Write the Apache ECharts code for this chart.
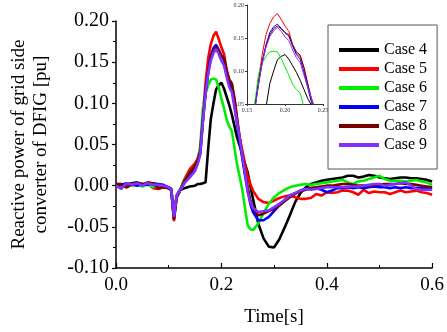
<!DOCTYPE html>
<html lang="en">
<head>
    <meta charset="UTF-8">
    <title>Reactive power of grid side converter</title>
    <script src="https://cdn.jsdelivr.net/npm/echarts/dist/echarts.min.js"></script>
    <style>
        html, body { margin: 0; padding: 0; background: #fff; }
        #main { width: 447px; height: 332px; }
    </style>
</head>
<body>
<div id="main"></div>
<script>
    // time axis [s], finer steps around the fault
    var time = [0, 0.01, 0.02, 0.03, 0.04, 0.05, 0.06, 0.07, 0.08, 0.09, 0.10,
        0.105, 0.11, 0.115, 0.12, 0.13, 0.14, 0.15,
        0.155, 0.16, 0.165, 0.17, 0.175, 0.18, 0.185, 0.19, 0.195, 0.20, 0.205,
        0.21, 0.215, 0.22, 0.225, 0.23, 0.235, 0.24, 0.245, 0.25, 0.255, 0.26,
        0.27, 0.28, 0.29, 0.30, 0.31, 0.32, 0.33, 0.34, 0.35, 0.36, 0.37, 0.38,
        0.39, 0.40, 0.41, 0.42, 0.43, 0.44, 0.45, 0.46, 0.47, 0.48, 0.49, 0.50,
        0.51, 0.52, 0.53, 0.54, 0.55, 0.56, 0.57, 0.58, 0.59, 0.60];

    var caseNames = ['Case 4', 'Case 5', 'Case 6', 'Case 7', 'Case 8', 'Case 9'];
    var caseColors = ['#000000', '#ff0000', '#00ee00', '#0000ff', '#7a0000', '#8030ff'];

    var case4 = [0.002, 0.002, 0.000, 0.003, 0.004, 0.002, 0.001, 0.003, 0.000, -0.001, -0.002,
        -0.004, -0.038, -0.012, -0.006, -0.003, -0.001, 0.000,
        0.002, 0.002, 0.003, 0.004, 0.045, 0.081, 0.100, 0.117, 0.122, 0.125, 0.118,
        0.108, 0.098, 0.086, 0.072, 0.058, 0.048, 0.038, 0.026, 0.016, 0.000, -0.016,
        -0.046, -0.064, -0.074, -0.075, -0.065, -0.051, -0.036, -0.020, -0.009, -0.002, 0.002, 0.004,
        0.006, 0.007, 0.008, 0.009, 0.010, 0.012, 0.012, 0.010, 0.011, 0.013, 0.012, 0.010,
        0.009, 0.008, 0.009, 0.010, 0.010, 0.009, 0.009, 0.008, 0.007, 0.005];
    var case5 = [0.002, 0.001, -0.002, 0.001, 0.002, 0.002, 0.003, -0.003, -0.004, -0.002, -0.003,
        -0.006, -0.043, -0.014, -0.008, 0.008, 0.020, 0.027,
        0.033, 0.045, 0.085, 0.125, 0.155, 0.172, 0.182, 0.187, 0.178, 0.168, 0.160,
        0.140, 0.127, 0.122, 0.105, 0.080, 0.058, 0.042, 0.025, 0.012, 0.002, -0.006,
        -0.016, -0.020, -0.021, -0.018, -0.015, -0.013, -0.012, -0.014, -0.016, -0.016, -0.015, -0.010,
        -0.012, -0.008, -0.009, -0.008, -0.006, -0.006, -0.008, -0.011, -0.005, -0.009, -0.007, -0.008,
        -0.008, -0.010, -0.008, -0.006, -0.008, -0.007, -0.006, -0.008, -0.009, -0.011];
    var case6 = [0.001, -0.002, 0.002, 0.000, 0.001, -0.001, 0.002, -0.002, 0.001, -0.002, -0.002,
        -0.005, -0.040, -0.013, -0.007, 0.007, 0.016, 0.024,
        0.030, 0.048, 0.095, 0.112, 0.122, 0.129, 0.130, 0.129, 0.119, 0.106, 0.094,
        0.080, 0.072, 0.066, 0.045, 0.025, 0.010, -0.006, -0.028, -0.048, -0.053, -0.054,
        -0.046, -0.033, -0.022, -0.014, -0.009, -0.005, -0.002, 0.000, 0.001, 0.002, 0.001, 0.002,
        0.003, 0.004, 0.005, 0.006, 0.007, 0.004, 0.002, 0.005, 0.006, 0.008, 0.010, 0.012,
        0.008, 0.006, 0.006, 0.006, 0.005, 0.006, 0.007, 0.005, 0.004, 0.001];
    var case7 = [0.000, 0.001, 0.003, 0.002, 0.000, 0.002, 0.001, 0.003, 0.002, 0.001, -0.002,
        -0.005, -0.040, -0.014, -0.008, 0.004, 0.012, 0.020,
        0.028, 0.040, 0.080, 0.115, 0.140, 0.158, 0.167, 0.171, 0.165, 0.158, 0.153,
        0.138, 0.125, 0.118, 0.098, 0.074, 0.052, 0.032, 0.012, -0.006, -0.022, -0.032,
        -0.042, -0.042, -0.038, -0.031, -0.024, -0.018, -0.012, -0.009, -0.006, -0.004, -0.003, -0.003,
        -0.005, -0.008, -0.006, -0.003, -0.003, -0.002, -0.003, -0.002, -0.003, -0.002, -0.001, -0.002,
        -0.002, -0.003, -0.002, -0.003, -0.002, -0.003, -0.003, -0.003, -0.003, -0.003];
    var case8 = [0.002, 0.001, -0.002, 0.002, 0.003, 0.001, 0.004, 0.003, -0.003, -0.002, -0.003,
        -0.006, -0.041, -0.014, -0.008, 0.006, 0.016, 0.024,
        0.031, 0.042, 0.080, 0.113, 0.138, 0.155, 0.164, 0.168, 0.164, 0.158, 0.155,
        0.140, 0.129, 0.124, 0.105, 0.080, 0.056, 0.036, 0.016, -0.002, -0.018, -0.027,
        -0.036, -0.034, -0.031, -0.028, -0.024, -0.019, -0.014, -0.010, -0.007, -0.005, -0.003, -0.002,
        -0.001, 0.000, 0.000, 0.001, 0.002, 0.002, 0.001, 0.000, 0.000, 0.000, 0.001, 0.001,
        0.002, 0.002, 0.002, 0.003, 0.002, 0.002, 0.001, 0.000, -0.001, -0.002];
    var case9 = [0.000, -0.004, 0.003, 0.001, 0.003, 0.000, 0.003, 0.001, 0.001, 0.000, -0.002,
        -0.005, -0.038, -0.012, -0.007, 0.003, 0.010, 0.018,
        0.026, 0.038, 0.078, 0.112, 0.136, 0.152, 0.161, 0.166, 0.160, 0.152, 0.146,
        0.132, 0.120, 0.113, 0.094, 0.075, 0.058, 0.035, 0.015, -0.008, -0.020, -0.027,
        -0.032, -0.031, -0.030, -0.026, -0.022, -0.017, -0.012, -0.009, -0.006, -0.004, -0.005, -0.004,
        -0.003, -0.002, -0.002, -0.002, -0.002, -0.001, -0.001, -0.001, 0.000, 0.001, 0.002, 0.002,
        0.000, 0.001, 0.002, 0.003, 0.004, 0.000, -0.004, -0.005, -0.005, -0.005];

    var allCases = [case4, case5, case6, case7, case8, case9];

    var serif = 'Liberation Serif';

    function pairs(vals) {
        return time.map(function (t, i) { return [t, vals[i]]; });
    }

    var series = [];
    // main curves (grid 0) and zoomed copies in the inset (grid 1)
    allCases.forEach(function (vals, k) {
        series.push({
            name: caseNames[k], type: 'line', xAxisIndex: 0, yAxisIndex: 0,
            data: pairs(vals), showSymbol: false, symbol: 'none',
            lineStyle: { width: 2.6, color: caseColors[k] }, itemStyle: { color: caseColors[k] }
        });
    });
    allCases.forEach(function (vals, k) {
        series.push({
            name: caseNames[k], type: 'line', xAxisIndex: 1, yAxisIndex: 1,
            data: pairs(vals), showSymbol: false, symbol: 'none', clip: true,
            lineStyle: { width: 1, color: caseColors[k] }, itemStyle: { color: caseColors[k] }
        });
    });

    var myChart = echarts.init(document.getElementById('main'));
    var option = {
        animation: false,
        backgroundColor: '#fff',
        grid: [
            { left: 113, right: 14, top: 21, bottom: 62 },
            { left: 247, right: 124, top: 5, bottom: 228 }
        ],
        legend: {
            data: caseNames,
            orient: 'vertical',
            left: 328, top: 25,
            padding: [17, 10, 16, 11],
            itemGap: 3,
            itemWidth: 40, itemHeight: 4,
            icon: 'rect',
            borderColor: '#555', borderWidth: 1,
            backgroundColor: '#fff',
            textStyle: { fontFamily: serif, fontSize: 16, color: '#000', lineHeight: 16 }
        },
        xAxis: [{
            gridIndex: 0, type: 'value', min: 0, max: 0.6, interval: 0.2,
            name: 'Time[s]', nameLocation: 'middle', nameGap: 40,
            nameTextStyle: { fontFamily: serif, fontSize: 19, color: '#000' },
            axisLine: { onZero: false, lineStyle: { color: '#000', width: 1.5 } },
            axisTick: { inside: true, length: 5, lineStyle: { color: '#000', width: 1.2 } },
            minorTick: { show: true, splitNumber: 2, length: 3, lineStyle: { color: '#000' } },
            splitLine: { show: false },
            axisLabel: { fontFamily: serif, fontSize: 19, color: '#000', margin: 8,
                formatter: function (v) { return v.toFixed(1); } }
        }, {
            gridIndex: 1, type: 'value', min: 0.15, max: 0.25, interval: 0.05,
            axisLine: { onZero: false, lineStyle: { color: '#333', width: 1 } },
            axisTick: { length: 2, lineStyle: { color: '#333' } },
            splitLine: { show: false },
            axisLabel: { fontFamily: serif, fontSize: 6, color: '#333', margin: 3,
                formatter: function (v) { return v.toFixed(2); } }
        }],
        yAxis: [{
            gridIndex: 0, type: 'value', min: -0.1, max: 0.2, interval: 0.05,
            name: 'Reactive power of grid side\nconverter of DFIG [pu]',
            nameLocation: 'middle', nameGap: 64, nameRotate: 90,
            nameTextStyle: { fontFamily: serif, fontSize: 19, color: '#000', lineHeight: 22, align: 'center' },
            axisLine: { show: true, onZero: false, lineStyle: { color: '#000', width: 1.5 } },
            axisTick: { show: true, length: 4, lineStyle: { color: '#000', width: 1.2 } },
            minorTick: { show: true, splitNumber: 2, length: 3, lineStyle: { color: '#000' } },
            splitLine: { show: false },
            axisLabel: { fontFamily: serif, fontSize: 20, color: '#000', margin: 7,
                formatter: function (v) { return v.toFixed(2); } }
        }, {
            gridIndex: 1, type: 'value', min: 0.05, max: 0.2, interval: 0.05,
            axisLine: { show: true, onZero: false, lineStyle: { color: '#333', width: 1 } },
            axisTick: { show: true, length: 2, lineStyle: { color: '#333' } },
            splitLine: { show: false },
            axisLabel: { fontFamily: serif, fontSize: 6, color: '#333', margin: 3,
                formatter: function (v) { return v.toFixed(2); } }
        }],
        series: series
    };
    myChart.setOption(option);
</script>
</body>
</html>
